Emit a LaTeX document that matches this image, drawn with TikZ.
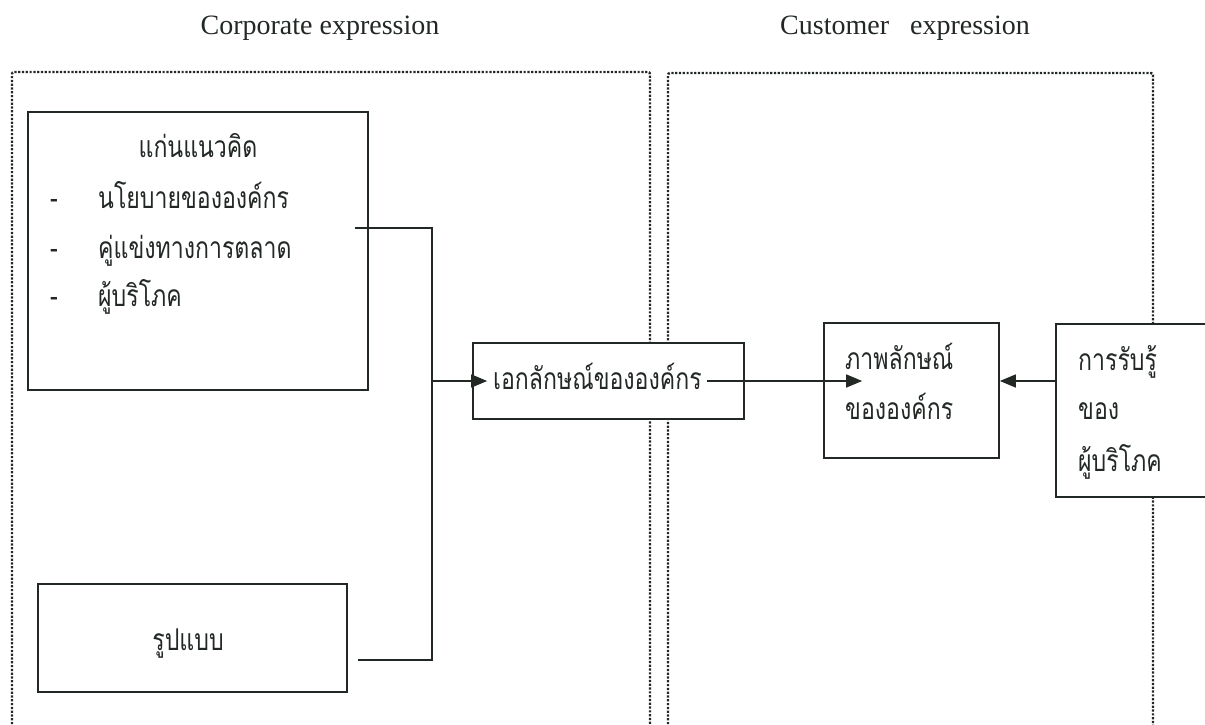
\documentclass[tikz,border=0pt]{standalone}
\usepackage{fontspec}
\setmainfont{Liberation Serif}
\newfontfamily\thai[Script=Thai, FakeStretch=0.77]{Loma}
\usetikzlibrary{arrows.meta}
\definecolor{ink}{RGB}{34,40,36}
\begin{document}
\begin{tikzpicture}[x=1pt,y=-1pt,
  frame/.style={draw=ink, line width=2.4pt, dash pattern=on 2.2pt off 1.6pt},
  box/.style={draw=ink, fill=white, line width=1.7pt, rectangle, inner sep=0pt},
  link/.style={draw=ink, line width=1.6pt},
  tip/.style={-{Triangle[length=16pt,width=13pt]}},
  th/.style={font=\thai\fontsize{30}{32}\selectfont, text=ink, anchor=base west, inner sep=0pt},
  title/.style={font=\fontsize{28}{32}\selectfont, text=ink, inner sep=0pt}]
\useasboundingbox (0,0) rectangle (1205,725);
\clip (0,0) rectangle (1205,725);
\fill[white] (0,0) rectangle (1205,725);

% headings
\node[title] (tcorp) at (320,28) {Corporate expression};
\node[title] (tcust) at (905,28) {Customer\ \ \ expression};

% dotted frames, open at the bottom
\draw[frame, rounded corners=2pt] (12,728) -- (12,72) -- (650,72) -- (650,728);
\draw[frame, rounded corners=2pt] (668,728) -- (668,73) -- (1153,73) -- (1153,728);

% boxes
\node[box, minimum width=340pt, minimum height=278pt] (core) at (198,251) {};
\node[box, minimum width=309pt, minimum height=108pt] (form) at (192.5,638) {};
\node[box, minimum width=271pt, minimum height=76pt] (ident) at (608.5,381) {};
\node[box, minimum width=175pt, minimum height=135pt] (image) at (911.5,390.5) {};
\node[box, minimum width=159pt, minimum height=173pt] (percep) at (1135.5,410.5) {};

% texts of the concept box
\node[th, anchor=base] (c0) at (198,157) {แก่นแนวคิด};
\node[th] (d1) at (50,208) {-};
\node[th] (c1) at (98,208) {นโยบายขององค์กร};
\node[th] (d2) at (50,258) {-};
\node[th] (c2) at (98,258) {คู่แข่งทางการตลาด};
\node[th] (d3) at (50,306) {-};
\node[th] (c3) at (98,306) {ผู้บริโภค};

\node[th, anchor=base] (f0) at (188,650) {รูปแบบ};
\node[th] (i0) at (493,389) {เอกลักษณ์ขององค์กร};
\node[th] (m1) at (845,369) {ภาพลักษณ์};
\node[th] (m2) at (845,419) {ขององค์กร};
\node[th] (p1) at (1078,370) {การรับรู้};
\node[th] (p2) at (1078,419) {ของ};
\node[th] (p3) at (1078,471) {ผู้บริโภค};

% connectors
\coordinate (s1) at (355,228);
\coordinate (s2) at (358,660);
\coordinate (jn) at (432,381);
\coordinate (e1) at (707,381);
\draw[link] (s1) -| (jn);
\draw[link] (s2) -| (jn);
\draw[link, tip] (jn) -- ([xshift=15pt]ident.west);
\draw[link, tip] (e1) -- ([xshift=39pt]image.west |- e1);
\draw[link, tip] (percep.west |- e1) -- (image.east |- e1);
\end{tikzpicture}
\end{document}
